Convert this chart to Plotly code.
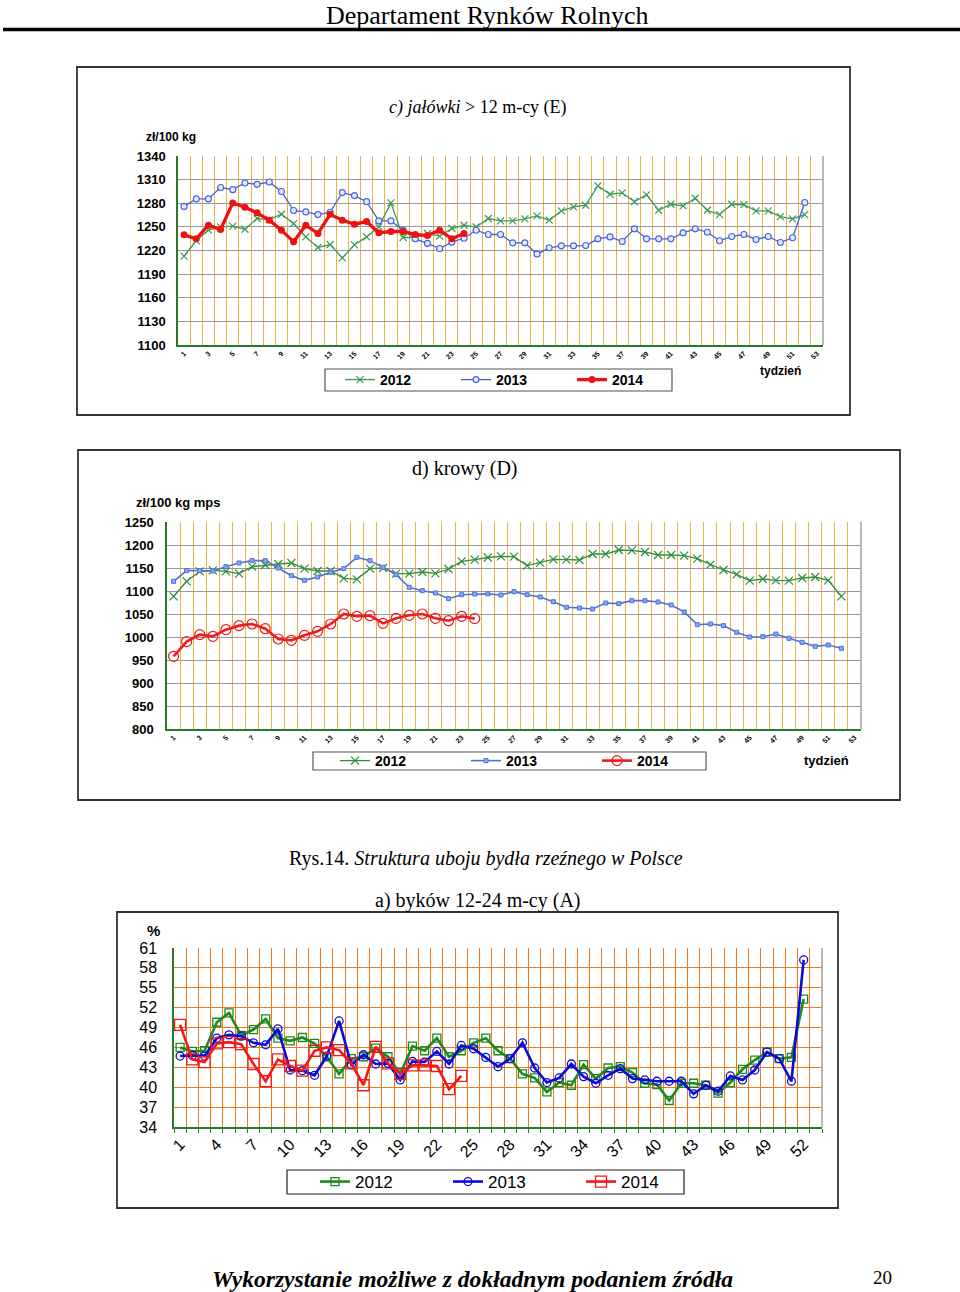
import plotly.graph_objects as go

W, H = 960, 1292
SERIF = "Liberation Serif"
SANS = "Liberation Sans"

# ---------------- data ----------------
years = ["2012", "2013", "2014"]

# c) jałówki > 12 m-cy (E)  [zł/100 kg]
c_2012 = [1212.8, 1232.3, 1245.8, 1250.0, 1250.9, 1247.0, 1260.6, 1259.3, 1266.0, 1254.2,
          1237.3, 1223.8, 1227.6, 1210.7, 1227.2, 1237.3, 1250.0, 1280.4, 1236.5, 1236.5,
          1241.6, 1238.2, 1247.9, 1252.1, 1249.8, 1260.6, 1257.6, 1257.6, 1260.1, 1264.0,
          1258.5, 1270.3, 1275.4, 1277.5, 1302.0, 1291.4, 1293.1, 1282.1, 1290.6, 1271.1,
          1278.7, 1276.6, 1286.3, 1271.1, 1265.6, 1278.7, 1278.3, 1270.3, 1270.3, 1263.1,
          1260.1, 1265.6]
c_2013 = [1276.0, 1285.5, 1285.5, 1300.0, 1297.3, 1305.8, 1304.0, 1307.0, 1295.0, 1270.7,
          1269.0, 1265.6, 1268.6, 1293.5, 1289.7, 1282.0, 1257.6, 1257.6, 1245.8, 1234.8,
          1229.0, 1222.5, 1230.6, 1235.6, 1245.8, 1240.3, 1240.3, 1229.7, 1229.7, 1215.4,
          1223.4, 1225.9, 1225.9, 1226.3, 1234.8, 1237.3, 1231.4, 1247.5, 1234.8, 1234.8,
          1234.8, 1242.4, 1247.5, 1243.2, 1232.3, 1237.8, 1240.3, 1234.0, 1237.8, 1230.2,
          1236.1, 1280.9]
c_2014 = [1239.9, 1234.8, 1252.1, 1246.6, 1280.4, 1274.9, 1267.8, 1258.5, 1245.8, 1231.0,
          1252.1, 1241.6, 1266.0, 1258.5, 1253.4, 1256.8, 1242.4, 1244.1, 1244.1, 1240.3,
          1239.0, 1245.8, 1234.8, 1241.6]

# d) krowy (D)  [zł/100 kg mps]
d_2012 = [1088.4, 1121.0, 1142.8, 1144.9, 1142.8, 1137.7, 1152.9, 1156.5, 1158.7, 1160.9,
          1148.6, 1143.5, 1143.5, 1127.5, 1125.4, 1148.6, 1150.0, 1137.7, 1137.7, 1141.3,
          1138.4, 1147.8, 1164.5, 1168.1, 1172.8, 1175.4, 1174.6, 1155.1, 1161.6, 1168.8,
          1168.1, 1167.4, 1180.4, 1180.4, 1189.1, 1188.4, 1184.8, 1178.3, 1178.3, 1176.8,
          1170.3, 1157.3, 1145.7, 1136.2, 1122.5, 1126.1, 1123.2, 1122.5, 1128.3, 1130.4,
          1123.2, 1088.4]
d_2013 = [1121.0, 1144.2, 1144.2, 1143.5, 1152.9, 1160.9, 1166.0, 1166.0, 1150.0, 1133.3,
          1123.2, 1130.4, 1140.6, 1148.6, 1173.2, 1166.0, 1151.5, 1135.5, 1108.0, 1100.7,
          1095.7, 1083.3, 1092.0, 1093.5, 1093.8, 1091.3, 1098.6, 1092.0, 1087.0, 1076.8,
          1064.5, 1063.0, 1060.9, 1073.9, 1072.5, 1079.0, 1079.0, 1076.1, 1069.6, 1054.4,
          1026.8, 1028.3, 1024.7, 1010.2, 1000.0, 1000.7, 1006.5, 997.1, 988.4, 979.7,
          982.6, 975.4]
d_2014 = [958.0, 989.9, 1005.1, 1001.5, 1016.0, 1024.7, 1028.3, 1018.1, 995.7, 992.8,
          1003.6, 1012.3, 1028.3, 1050.0, 1045.0, 1046.4, 1029.7, 1040.6, 1047.1, 1050.0,
          1040.6, 1035.5, 1045.0, 1039.9]

# a) byków 12-24 m-cy (A)  [%]
a_2012 = [46.0, 45.4, 45.5, 49.8, 51.2, 47.8, 48.7, 50.3, 47.4, 47.0,
          47.5, 46.6, 44.6, 42.0, 44.3, 44.6, 45.9, 44.6, 42.0, 46.2,
          45.5, 47.4, 44.6, 45.5, 46.7, 47.4, 45.5, 44.3, 42.0, 41.4,
          39.3, 40.7, 40.3, 43.4, 41.3, 42.9, 43.1, 42.2, 40.6, 40.4,
          38.0, 40.6, 40.6, 40.3, 39.1, 40.7, 42.7, 44.1, 45.3, 44.3,
          44.5, 53.3]
a_2013 = [44.7, 44.8, 44.7, 47.4, 47.9, 47.7, 46.7, 46.4, 48.8, 42.6,
          42.5, 41.8, 44.7, 50.0, 43.4, 44.9, 43.5, 43.6, 41.1, 43.9,
          43.8, 45.4, 43.5, 46.3, 45.8, 44.5, 43.1, 44.3, 46.7, 42.9,
          40.7, 41.4, 43.5, 41.6, 40.6, 41.8, 42.8, 41.3, 41.1, 40.9,
          40.9, 40.9, 39.0, 40.3, 39.4, 41.7, 41.1, 42.6, 45.3, 44.3,
          40.9, 59.2]
a_2014 = [49.4, 44.2, 43.8, 46.6, 46.8, 46.5, 43.5, 40.9, 44.2, 43.2,
          42.5, 45.5, 46.0, 45.6, 43.6, 40.3, 46.1, 43.6, 42.0, 43.3,
          43.3, 43.2, 39.7, 41.7]

n_cat = 53
cd_ticks = list(range(1, 54, 2))
a_ticks = list(range(1, 53, 3))


def wk(vals):
    return list(range(1, len(vals) + 1))


def px(p):
    return p / W


def py(p):
    return 1 - p / H


fig = go.Figure()

# ---------- chart c ----------
fig.add_trace(go.Scatter(x=wk(c_2012), y=c_2012, name=years[0], mode="lines+markers",
                         line=dict(color="#3f9a55", width=1.3),
                         marker=dict(symbol="x-thin", size=7, line=dict(color="#3f9a55", width=1.2)),
                         xaxis="x", yaxis="y", legend="legend"))
fig.add_trace(go.Scatter(x=wk(c_2013), y=c_2013, name=years[1], mode="lines+markers",
                         line=dict(color="#4463d8", width=1.3),
                         marker=dict(symbol="circle", size=6, color="#e4e9ff",
                                     line=dict(color="#4463d8", width=1.1)),
                         xaxis="x", yaxis="y", legend="legend"))
fig.add_trace(go.Scatter(x=wk(c_2014), y=c_2014, name=years[2], mode="lines+markers",
                         line=dict(color="#ee1111", width=3.3),
                         marker=dict(symbol="circle", size=7, color="#ee1111"),
                         xaxis="x", yaxis="y", legend="legend"))

# ---------- chart d ----------
fig.add_trace(go.Scatter(x=wk(d_2012), y=d_2012, name=years[0], mode="lines+markers",
                         line=dict(color="#2f8f3a", width=1.3),
                         marker=dict(symbol="x-thin", size=8, line=dict(color="#2f8f3a", width=1.2)),
                         xaxis="x2", yaxis="y2", legend="legend2"))
fig.add_trace(go.Scatter(x=wk(d_2013), y=d_2013, name=years[1], mode="lines+markers",
                         line=dict(color="#4f72d8", width=1.6),
                         marker=dict(symbol="square", size=4, color="#8fa6ee",
                                     line=dict(color="#4f72d8", width=1)),
                         xaxis="x2", yaxis="y2", legend="legend2"))
fig.add_trace(go.Scatter(x=wk(d_2014), y=d_2014, name=years[2], mode="lines+markers",
                         line=dict(color="#ee1c1c", width=2.6),
                         marker=dict(symbol="circle-open", size=10, line=dict(color="#ee3333", width=1.2)),
                         xaxis="x2", yaxis="y2", legend="legend2"))

# ---------- chart a ----------
fig.add_trace(go.Scatter(x=wk(a_2012), y=a_2012, name=years[0], mode="lines+markers",
                         line=dict(color="#1e8a1e", width=2.6),
                         marker=dict(symbol="square-open", size=8, line=dict(color="#1e8a1e", width=1.3)),
                         xaxis="x3", yaxis="y3", legend="legend3"))
fig.add_trace(go.Scatter(x=wk(a_2013), y=a_2013, name=years[1], mode="lines+markers",
                         line=dict(color="#0a0ad8", width=2.6),
                         marker=dict(symbol="circle-open", size=8, line=dict(color="#0a0ad8", width=1.3)),
                         xaxis="x3", yaxis="y3", legend="legend3"))
fig.add_trace(go.Scatter(x=wk(a_2014), y=a_2014, name=years[2], mode="lines+markers",
                         line=dict(color="#f21818", width=2.6),
                         marker=dict(symbol="square-open", size=11, line=dict(color="#f21818", width=1.3)),
                         xaxis="x3", yaxis="y3", legend="legend3"))

GREEN_AX = "#2a7a2a"
ORANGE_CD = "#e9b24a"
GREY_GRID = "#9a9a9a"
ORANGE_A = "#f07a1e"


def xcat(domain, tickvals, font, gridcolor, minor_ticks=False):
    return dict(domain=domain, range=[0.5, n_cat + 0.5], tickmode="array",
                tickvals=tickvals, ticktext=[str(v) for v in tickvals], tickangle=-45,
                tickfont=font, showgrid=False, zeroline=False, showline=True,
                linecolor=GREEN_AX, linewidth=1.5, ticks="",
                minor=dict(tickmode="linear", tick0=0.5, dtick=1, showgrid=True,
                           gridcolor=gridcolor, gridwidth=1.2,
                           ticks="outside" if minor_ticks else "", ticklen=4,
                           tickcolor=GREEN_AX),
                fixedrange=True)


def yval(domain, rng, dtick, font, gridcolor, standoff):
    return dict(domain=domain, range=rng, tick0=rng[0], dtick=dtick, tickfont=font,
                showgrid=True, gridcolor=gridcolor, gridwidth=1.3, zeroline=False,
                showline=True, linecolor=GREEN_AX, linewidth=1.5, ticks="",
                ticklabelstandoff=standoff, fixedrange=True)


fig.update_layout(
    margin=dict(l=0, r=0, t=0, b=0, autoexpand=False),
    paper_bgcolor="white", plot_bgcolor="white",
    font=dict(family=SANS, color="black"),
    xaxis=xcat([px(178), px(823)], cd_ticks,
               dict(family=SANS, size=7, weight="bold"), ORANGE_CD),
    yaxis=yval([py(345), py(156)], [1100, 1340], 30,
               dict(family=SANS, size=13, weight="bold"), GREY_GRID, 8),
    xaxis2=dict(xcat([px(167), px(861)], cd_ticks,
                     dict(family=SANS, size=7, weight="bold"), ORANGE_CD), anchor="y2"),
    yaxis2=dict(yval([py(729), py(522)], [800, 1250], 50,
                     dict(family=SANS, size=13, weight="bold"), GREY_GRID, 9), anchor="x2"),
    xaxis3=dict(xcat([px(174), px(822)], a_ticks,
                     dict(family=SANS, size=16), ORANGE_A, minor_ticks=True), anchor="y3"),
    yaxis3=dict(yval([py(1127), py(948)], [34, 61], 3,
                     dict(family=SANS, size=16), ORANGE_A, 12), anchor="x3"),
    showlegend=True,
    legend=dict(orientation="h", x=px(340), y=py(380), xanchor="left", yanchor="middle",
                bgcolor="rgba(0,0,0,0)", borderwidth=0, entrywidth=71, itemwidth=30,
                font=dict(family=SANS, size=14, weight="bold"), tracegroupgap=0),
    legend2=dict(orientation="h", x=px(335), y=py(761), xanchor="left", yanchor="middle",
                 bgcolor="rgba(0,0,0,0)", borderwidth=0, entrywidth=86, itemwidth=30,
                 font=dict(family=SANS, size=14, weight="bold")),
    legend3=dict(orientation="h", x=px(315), y=py(1182), xanchor="left", yanchor="middle",
                 bgcolor="rgba(0,0,0,0)", borderwidth=0, entrywidth=88, itemwidth=30,
                 font=dict(family=SANS, size=17)),
)

shapes = [
    # header rule
    dict(type="line", xref="paper", yref="paper", x0=px(3), x1=1, y0=py(29.5), y1=py(29.5),
         line=dict(color="black", width=3.5)),
    # outer frames
    dict(type="rect", xref="paper", yref="paper", x0=px(77), x1=px(850), y0=py(415), y1=py(67),
         line=dict(color="#333333", width=1.8)),
    dict(type="rect", xref="paper", yref="paper", x0=px(78), x1=px(900), y0=py(800), y1=py(450),
         line=dict(color="#333333", width=1.8)),
    dict(type="rect", xref="paper", yref="paper", x0=px(117), x1=px(838), y0=py(1208), y1=py(912),
         line=dict(color="#333333", width=1.8)),
    # legend frames
    dict(type="rect", xref="paper", yref="paper", x0=px(325), x1=px(672), y0=py(391), y1=py(369),
         line=dict(color="#555555", width=1.2)),
    dict(type="rect", xref="paper", yref="paper", x0=px(313), x1=px(706), y0=py(770), y1=py(752),
         line=dict(color="#555555", width=1.2)),
    dict(type="rect", xref="paper", yref="paper", x0=px(287), x1=px(684), y0=py(1194), y1=py(1170),
         line=dict(color="#222222", width=1.2)),
]
# right borders of plot areas
for xa, ya in (("x", "y"), ("x2", "y2"), ("x3", "y3")):
    shapes.append(dict(type="line", xref=f"{xa} domain", yref=f"{ya} domain", x0=1, x1=1, y0=0, y1=1,
                       line=dict(color="#a0a0a0", width=1.5)))
fig.update_layout(shapes=shapes)

ann = [
    dict(text="Departament Rynków Rolnych", x=px(487), y=py(15.5), font=dict(family=SERIF, size=26)),
    dict(text="<i>c) jałówki</i> &gt; 12 m-cy (E)", x=px(478), y=py(108), font=dict(family=SERIF, size=18)),
    dict(text="zł/100 kg", x=px(171), y=py(137), font=dict(family=SANS, size=12, weight="bold")),
    dict(text="tydzień", x=px(780), y=py(371), font=dict(family=SANS, size=12, weight="bold")),
    dict(text="d) krowy (D)", x=px(465), y=py(469), font=dict(family=SERIF, size=20)),
    dict(text="zł/100 kg mps", x=px(178), y=py(502), font=dict(family=SANS, size=13, weight="bold")),
    dict(text="tydzień", x=px(826), y=py(760), font=dict(family=SANS, size=13, weight="bold")),
    dict(text="Rys.14. <i>Struktura uboju bydła rzeźnego w Polsce</i>", x=px(486), y=py(858),
         font=dict(family=SERIF, size=20)),
    dict(text="a) byków 12-24 m-cy (A)", x=px(478), y=py(900), font=dict(family=SERIF, size=20)),
    dict(text="%", x=px(153), y=py(930), font=dict(family=SANS, size=15, weight="bold")),
    dict(text="<b><i>Wykorzystanie możliwe z dokładnym podaniem źródła</i></b>", x=px(472), y=py(1279),
         font=dict(family=SERIF, size=23.6)),
    dict(text="20", x=px(882), y=py(1277), font=dict(family=SERIF, size=19)),
]
for a in ann:
    a.update(xref="paper", yref="paper", showarrow=False, xanchor="center", yanchor="middle")
fig.update_layout(annotations=ann)

post = ("document.documentElement.style.margin='0';document.body.style.margin='0';"
        "document.body.style.padding='0';document.documentElement.style.overflow='hidden';"
        "document.body.style.overflow='hidden';"
        "var gd=document.getElementById('{plot_id}');gd.style.position='absolute';"
        "gd.style.left='0';gd.style.top='0';")

fig.write_html("out.html", default_width="100vw", default_height="100vh",
               config={"displayModeBar": False, "responsive": True},
               post_script=post)
